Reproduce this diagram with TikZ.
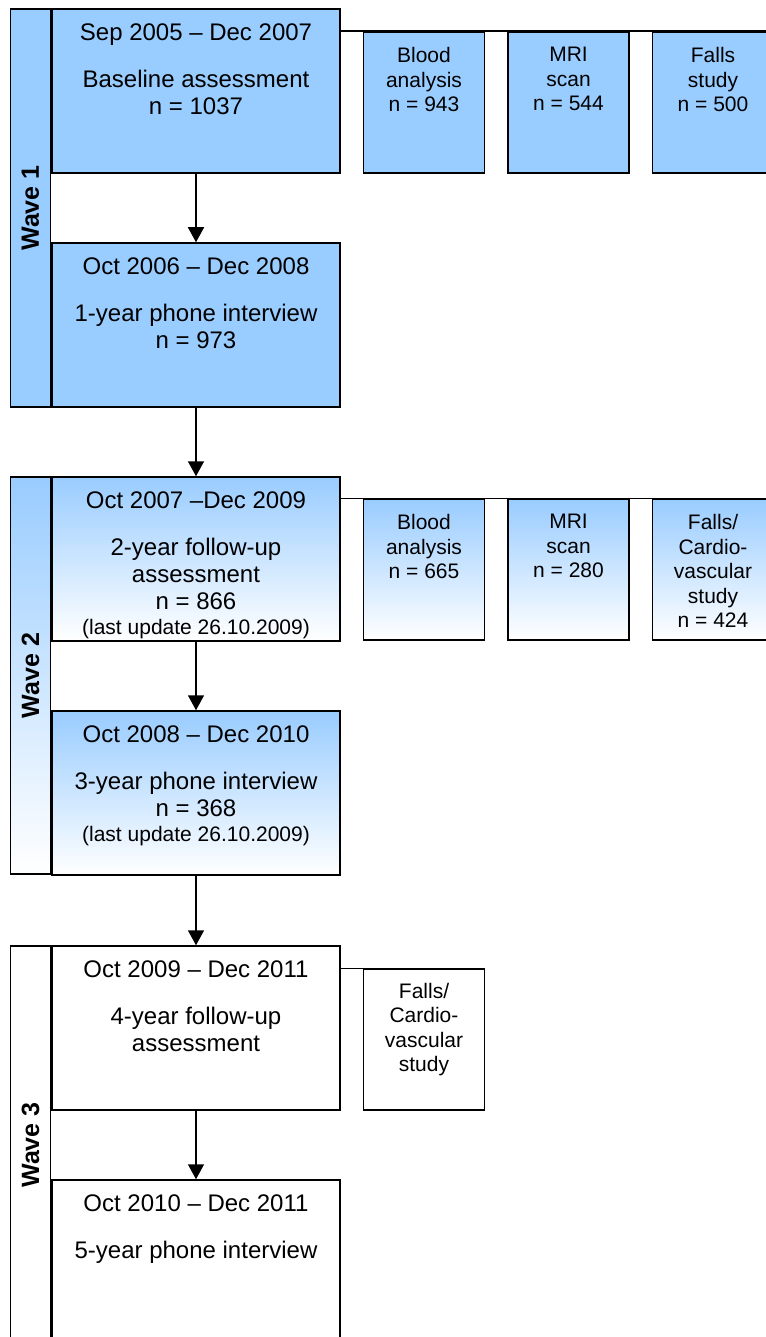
\documentclass[tikz,border=0pt]{standalone}
\usepackage{fontspec}
\setmainfont{Liberation Sans}
\usetikzlibrary{positioning,arrows.meta}

\definecolor{waveblue}{RGB}{153,204,255}
\newcommand\maintxt{\fontsize{24}{27}\selectfont}
\newcommand\smalltxt{\fontsize{21}{24.5}\selectfont}

\tikzset{
  stagebox/.style={draw, minimum width=288pt, minimum height=164pt, inner sep=0pt},
  sidebox/.style={draw, minimum width=121pt, minimum height=141pt, inner sep=0pt},
  wavestrip/.style={draw, minimum width=40pt, inner sep=0pt, anchor=north east},
  stagetext/.style={align=center, inner sep=0pt, font=\maintxt},
  sidetext/.style={align=center, inner sep=0pt, font=\smalltxt},
  wavelabel/.style={rotate=90, inner sep=0pt, font=\fontsize{25}{30}\selectfont\bfseries},
  bluefill/.style={fill=waveblue},
  bluefade/.style={top color=waveblue, bottom color=white},
}

\begin{document}
\begin{tikzpicture}[x=1pt, y=-1pt, line width=1.5pt, node distance=68.5pt, >={Triangle[width=16pt,length=15pt]}]
\useasboundingbox (0,0) rectangle (765,1337);

% Wave 1
\node[stagebox, bluefill] (base) at (196,91) {};
\node[stagebox, bluefill, below=of base] (phone1) {};
\node[wavestrip, bluefill, minimum height=398pt] (wave1) at (base.north west) {};
\node[wavelabel] (wave1lab) at (wave1) {Wave 1};
\node[stagetext, below=14.5pt of base.north] (basetxt) {Sep 2005 – Dec 2007\\[20pt]Baseline assessment\\n = 1037};
\node[stagetext, below=14.5pt of phone1.north] (phone1txt) {Oct 2006 – Dec 2008\\[20pt]1-year phone interview\\n = 973};

\node[sidebox, bluefill, below right=23pt and 22pt of base.north east] (blood1) {};
\node[sidebox, bluefill, right=22pt of blood1] (mri1) {};
\node[sidebox, bluefill, right=22pt of mri1] (falls1) {};
\node[sidetext, below=15.5pt of blood1.north] (blood1txt) {Blood\\analysis\\n = 943};
\node[sidetext, below=15.5pt of mri1.north] (mri1txt) {MRI\\scan\\n = 544};
\node[sidetext, below=15.5pt of falls1.north] (falls1txt) {Falls\\study\\n = 500};

\draw (base.east |- blood1.north) -- (falls1.north east);
\draw[->] (base) -- (phone1);

% Wave 2
\node[stagebox, bluefade, below=of phone1] (fup2) {};
\node[stagebox, bluefade, below=of fup2] (phone3) {};
\node[wavestrip, bluefade, minimum height=397pt] (wave2) at (fup2.north west) {};
\node[wavelabel] (wave2lab) at (wave2) {Wave 2};
\node[stagetext, below=14.5pt of fup2.north] (fup2txt) {Oct 2007 –Dec 2009\\[20pt]2-year follow-up\\assessment\\n = 866\\[-2pt]{\smalltxt (last update 26.10.2009)}};
\node[stagetext, below=14.5pt of phone3.north] (phone3txt) {Oct 2008 – Dec 2010\\[20pt]3-year phone interview\\n = 368\\[-2pt]{\smalltxt (last update 26.10.2009)}};

\node[sidebox, bluefade, below right=22pt and 22pt of fup2.north east] (blood2) {};
\node[sidebox, bluefade, right=22pt of blood2] (mri2) {};
\node[sidebox, bluefade, right=22pt of mri2] (falls2) {};
\node[sidetext, below=15.5pt of blood2.north] (blood2txt) {Blood\\analysis\\n = 665};
\node[sidetext, below=15.5pt of mri2.north] (mri2txt) {MRI\\scan\\n = 280};
\node[sidetext, below=15.5pt of falls2.north] (falls2txt) {Falls/\\Cardio-\\vascular\\study\\n = 424};

\draw (fup2.east |- blood2.north) -- (falls2.north east);
\draw[->] (phone1) -- (fup2);
\draw[->] (fup2) -- (phone3);

% Wave 3
\node[stagebox, below=69.5pt of phone3] (fup4) {};
\node[stagebox, below=of fup4] (phone5) {};
\node[wavestrip, minimum height=398pt] (wave3) at (fup4.north west) {};
\node[wavelabel] (wave3lab) at (wave3) {Wave 3};
\node[stagetext, below=14.5pt of fup4.north] (fup4txt) {Oct 2009 – Dec 2011\\[20pt]4-year follow-up\\assessment};
\node[stagetext, below=14.5pt of phone5.north] (phone5txt) {Oct 2010 – Dec 2011\\[20pt]5-year phone interview};

\node[sidebox, below right=23pt and 22pt of fup4.north east] (falls3) {};
\node[sidetext, below=14pt of falls3.north] (falls3txt) {Falls/\\Cardio-\\vascular\\study};

\draw (fup4.east |- falls3.north) -- (falls3.north west);
\draw[->] (phone3) -- (fup4);
\draw[->] (fup4) -- (phone5);
\end{tikzpicture}
\end{document}
